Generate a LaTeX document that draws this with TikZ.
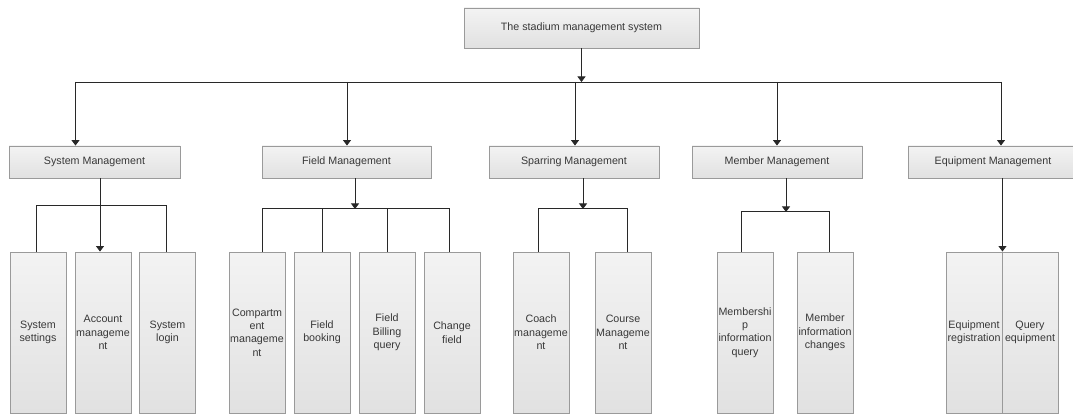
\documentclass[tikz,border=0pt]{standalone}
\usepackage{fontspec}
\setmainfont{Liberation Sans}
\usetikzlibrary{arrows.meta}
\definecolor{boxline}{HTML}{9A9A9A}
\definecolor{boxtop}{HTML}{F3F3F3}
\definecolor{boxbot}{HTML}{E1E1E1}
\definecolor{txt}{HTML}{383838}
\definecolor{wire}{HTML}{282828}
\tikzset{
  box/.style={draw=boxline, line width=0.9pt, top color=boxtop, bottom color=boxbot,
    text=txt, inner sep=0pt, align=center, font=\fontsize{10.7}{13.4}\selectfont},
  topbox/.style={box, minimum width=235, minimum height=40},
  midbox/.style={box, minimum width=170, minimum height=32},
  leafbox/.style={box, minimum width=56, minimum height=161},
  wireline/.style={draw=wire, line width=0.8pt},
  arr/.style={wireline, -{Triangle[width=8pt,length=5.5pt]}}
}
\begin{document}
\begin{tikzpicture}[x=1pt,y=-1pt]
\useasboundingbox[fill=white] (0,0) rectangle (1073,414);
% top
\node[topbox] (top) at (581.5,28) {The stadium management system};
% second level
\node[midbox, minimum width=171] (sm) at (94.5,162) {System Management};
\node[midbox, minimum width=169] (fm) at (346.5,162) {Field Management};
\node[midbox] (spm) at (574,162) {Sparring Management};
\node[midbox] (mm) at (777,162) {Member Management};
\node[midbox] (em) at (993,162) {Equipment Management};
% leaves
\node[leafbox] (ss) at (38,332.5) {System\\settings};
\node[leafbox] (am) at (103,332.5) {Account\\manageme\\nt};
\node[leafbox] (sl) at (167.5,332.5) {System\\login};
\node[leafbox] (cm) at (257,332.5) {Compartm\\ent\\manageme\\nt};
\node[leafbox] (fb) at (322,332.5) {Field\\booking};
\node[leafbox] (fbq) at (387,332.5) {Field\\Billing\\query};
\node[leafbox] (cf) at (452,332.5) {Change\\field};
\node[leafbox] (coach) at (541,332.5) {Coach\\manageme\\nt};
\node[leafbox] (course) at (623,332.5) {Course\\Manageme\\nt};
\node[leafbox] (mq) at (745,332.5) {Membershi\\p\\information\\query};
\node[leafbox] (mic) at (825,332.5) {Member\\information\\changes};
\node[leafbox] (er) at (974,332.5) {Equipment\\registration};
\node[leafbox] (qe) at (1030,332.5) {Query\\equipment};
% main bus
\coordinate (busL) at (75.5,82);
\coordinate (busR) at (1001,82);
\coordinate (b2) at (347,82);
\coordinate (b3) at (575,82);
\coordinate (b4) at (777,82);
\draw[arr] (top.south) -- (top.south |- busL);
\draw[wireline] (busL) -- (busR);
\draw[arr] (busL) -- (busL |- sm.north);
\draw[arr] (b2) -- (b2 |- fm.north);
\draw[arr] (b3) -- (b3 |- spm.north);
\draw[arr] (b4) -- (b4 |- mm.north);
\draw[arr] (busR) -- (busR |- em.north);
% system management
\draw[arr] ([xshift=5.5]sm.south) -- ([xshift=-3]am.north);
\draw[wireline] ([xshift=-2]ss.north) -- ++(0,-46) -| ([xshift=-1.5]sl.north);
% field management
\draw[arr] ([xshift=8.5]fm.south) -- ++(0,30.5);
\draw[wireline] ([xshift=5]cm.north) -- ++(0,-43) -| ([xshift=-3]cf.north);
\draw[wireline] (fb.north) -- ++(0,-43);
\draw[wireline] (fbq.north) -- ++(0,-43);
% sparring management
\draw[arr] ([xshift=9]spm.south) -- ++(0,30.5);
\draw[wireline] ([xshift=-3]coach.north) -- ++(0,-43) -| ([xshift=4]course.north);
% member management
\draw[arr] ([xshift=9]mm.south) -- ++(0,33.5);
\draw[wireline] ([xshift=-4]mq.north) -- ++(0,-40) -| ([xshift=4]mic.north);
% equipment management
\draw[arr] (em.south -| er.north east) -- (er.north east);
\end{tikzpicture}
\end{document}
